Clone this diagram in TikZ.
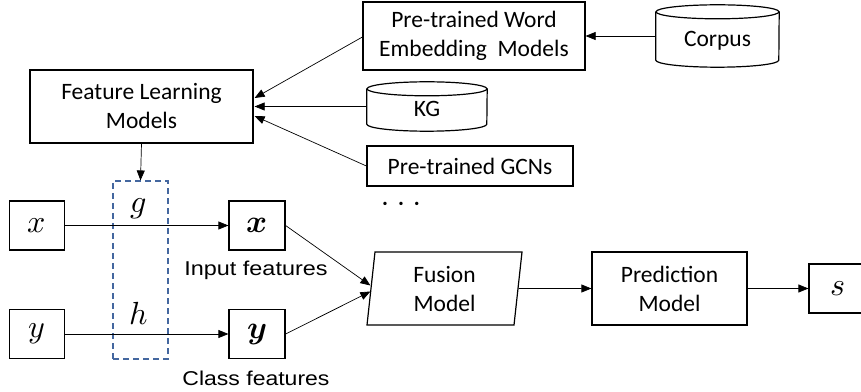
\documentclass[tikz,border=0pt]{standalone}
\usepackage{fontspec}
\usepackage{unicode-math}
\setmainfont{Carlito}
\setmathfont{Latin Modern Math}
\newfontfamily\arialfont{Liberation Sans}
\usetikzlibrary{shapes.geometric,arrows.meta,calc}
\definecolor{dashblue}{HTML}{44679F}
\tikzset{
  box/.style={draw=black,line width=1.2pt,align=center,inner sep=0pt,
    font=\fontsize{23.5}{29}\selectfont},
  mbox/.style={draw=black,line width=1.2pt,inner sep=0pt,minimum width=55pt,minimum height=49pt,
    font=\fontsize{32}{36}\selectfont},
  cylbox/.style={draw=none,align=center,inner sep=0pt,font=\fontsize{23.5}{29}\selectfont},
  conn/.style={line width=0.7pt,-{Triangle[length=10pt,width=8pt]}},
  lbl/.style={font=\arialfont\fontsize{20}{24}\selectfont,inner sep=0pt},
  mlbl/.style={font=\fontsize{32}{36}\selectfont,inner sep=0pt},
}
\newcommand\drawcyl[2]{%
  \draw[line width=1.2pt]
    ($(#1.north west)+(0,-#2)$) -- ($(#1.south west)+(0,#2)$)
    arc[start angle=180,end angle=360,x radius={0.5*(\wdtmp)},y radius=#2]
    -- ($(#1.north east)+(0,-#2)$);
  \draw[line width=1.2pt] ($(#1.north)+(0,-#2)$) ellipse[x radius={0.5*(\wdtmp)},y radius=#2];
}
\begin{document}
\begin{tikzpicture}[x=1pt,y=1pt]
\useasboundingbox (0,0) rectangle (861,391);
% top group
\node[box,minimum width=223pt,minimum height=73pt] (flm) at (141.5,284.5) {Feature Learning\\Models};
\node[box,minimum width=222pt,minimum height=68pt] (we) at (474,355) {Pre-trained Word\\Embedding~~Models};
\node[cylbox,minimum width=123pt,minimum height=62pt] (corpus) at (717.5,355) {};
\node[cylbox] (corpustxt) at (717.5,350) {Corpus};
\def\wdtmp{123}
\drawcyl{corpus}{7}
\node[cylbox,minimum width=120pt,minimum height=49pt] (kg) at (427,284.5) {};
\node[cylbox] (kgtxt) at (427,282) {KG};
\def\wdtmp{120}
\drawcyl{kg}{7}
\node[box,minimum width=206pt,minimum height=40pt] (gcn) at (470,225) {Pre-trained GCNs};
\node[font=\fontsize{23.5}{24}\selectfont,inner sep=0pt] (dots) at (401,185) {·\hspace{10pt}·\hspace{10pt}·};
% connectors top
\draw[conn] (corpus.west) -- (we.east);
\draw[conn] ($(we.west)+(0,-1)$) -- ($(flm.east)+(1,8.5)$);
\draw[conn] (kg.west) -- ($(flm.east)+(1,0)$);
\draw[conn] (gcn.west) -- ($(flm.east)+(1,-9.5)$);
% dashed box
\node[draw=dashblue,dash pattern=on 6pt off 4pt,line width=1.1pt,minimum width=55pt,minimum height=178pt,inner sep=0pt] (dash) at (140.5,121) {};
\draw[conn] (flm.south) -- (dash.north);
% inputs
\node[mbox] (x) at (37,165.5) {$x$};
\node[mbox] (y) at (37,57) {$y$};
\node[mbox,minimum width=56pt] (bx) at (257,165.5) {$\symbfit{x}$};
\node[mbox,minimum width=56pt] (by) at (257,57) {$\symbfit{y}$};
\node[mlbl] (g) at (139,182) {$g$};
\node[mlbl] (h) at (139,77) {$h$};
\node[lbl] (inlbl) at (256,121) {\scalebox{1.17}[1]{Input features}};
\node[lbl] (cllbl) at (256,13) {\scalebox{1.15}[1]{Class features}};
\draw[conn] (x.east) -- (bx.west);
\draw[conn] (y.east) -- (by.west);
% fusion and prediction
\node[box,trapezium,trapezium left angle=80,trapezium right angle=100,trapezium stretches body,
  minimum width=155pt,minimum height=73pt] (fusion) at (444.5,102.5) {Fusion\\Model};
\node[box,minimum width=155pt,minimum height=73pt] (pred) at (669.5,102.5) {Prediction\\Model};
\node[mbox,minimum width=58pt] (s) at (838,102.5) {$s$};
\draw[conn] (bx.east) -- ($(fusion.west)+(0,3)$);
\draw[conn] (by.east) -- ($(fusion.west)+(0,-3)$);
\draw[conn] (fusion.east) -- (pred.west);
\draw[conn] (pred.east) -- (s.west);
\end{tikzpicture}
\end{document}
